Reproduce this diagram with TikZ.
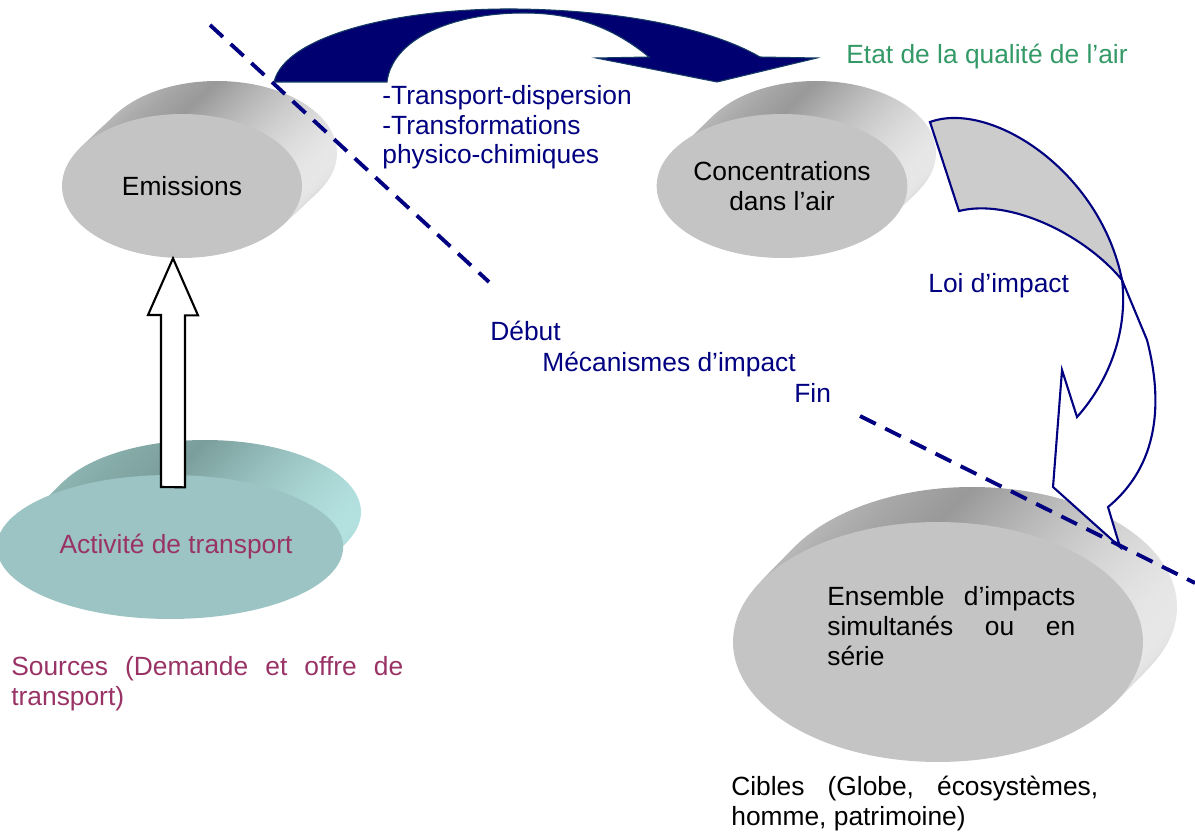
\documentclass[tikz,border=0pt]{standalone}
\usepackage{fontspec}
\setmainfont{Liberation Sans}
\usetikzlibrary{shapes.geometric,calc}
\definecolor{navytxt}{RGB}{0,0,128}
\definecolor{navyfill}{RGB}{0,0,112}
\definecolor{navyedge}{RGB}{20,60,100}
\definecolor{airgreen}{RGB}{51,153,102}
\definecolor{plum}{RGB}{153,51,102}
\definecolor{lawgray}{RGB}{204,204,204}
\definecolor{discface}{RGB}{196,196,196}
\definecolor{discdark}{RGB}{153,153,153}
\definecolor{discmid}{RGB}{192,192,192}
\definecolor{disclight}{RGB}{232,232,232}
\definecolor{tealface}{RGB}{156,196,196}
\definecolor{tealdark}{RGB}{122,158,156}
\definecolor{tealmid}{RGB}{145,185,182}
\definecolor{teallight}{RGB}{180,226,224}
% depth of a disc: copies of the rim from back to front
\newcommand{\slab}[6]{%
  \foreach \k in {16,...,1}
    \shade[left color=#6mid, right color=#6light, middle color=#6dark]
      ($(#1)+({\k*#4/16},{\k*#5/16})$) ellipse [x radius=#2, y radius=#3];
}

\begin{document}
\begin{tikzpicture}[x=0.02cm, y=-0.02cm]
  \tikzset{every node/.style={font=\fontsize{15}{17}\selectfont},
    face/.style={ellipse, inner sep=0pt, align=center},
    note/.style={inner sep=0pt, anchor=base west, align=left},
    cut/.style={draw=navytxt, line width=2.2pt, dash pattern=on 10pt off 6pt},
    blockup/.style={draw=black, fill=white, line width=1.2pt, line join=miter},
    ribbon/.style={draw=navyedge, fill=navyfill, line width=0.6pt},
    twist/.style={draw=navytxt, line width=1.2pt, line join=miter}}
  \useasboundingbox (0,0) rectangle (1195,834);

  % discs
  \coordinate (emi-c) at (182,186);
  \coordinate (conc-c) at (782,186);
  \coordinate (act-c) at (170,547);
  \coordinate (ens-c) at (938,642);
  \slab{emi-c}{120}{72}{35}{-33}{disc}
  \node[face, fill=discface, minimum width=4.8cm, minimum height=2.88cm] (emi) at (emi-c) {Emissions};
  \slab{conc-c}{120}{72}{34}{-33}{disc}
  \node[face, fill=discface, minimum width=4.8cm, minimum height=2.88cm] (conc) at (conc-c) {Concentrations\\dans l’air};
  \slab{act-c}{156}{72}{35}{-35}{teal}
  \node[face, fill=tealface, text=plum, minimum width=6.24cm, minimum height=2.88cm] (act) at (act-c) {\hspace*{0.24cm}Activité de transport};
  \slab{ens-c}{205}{120}{34}{-35}{disc}
  \node[face, fill=discface, minimum width=8.2cm, minimum height=4.8cm] (ens) at (ens-c) {};

  % sources -> emissions
  \coordinate (up-tail) at (173,487);
  \coordinate (up-tip) at (emi.south -| up-tail);
  \draw[blockup] (up-tail) ++(-12,0) -- ++(0,-172) -- ++(-13,0) -- (up-tip)
    -- ++(25,57) -- ++(-13,0) -- ++(0,172) -- cycle;

  % transport-dispersion
  \draw[ribbon] (274,82) .. controls (285,35) and (400,8) .. (515,9)
    .. controls (620,10) and (710,28) .. (760,57) -- (817,58) -- (717,82)
    -- (596,58) -- (649,57) .. controls (610,25) and (570,13) .. (524,13)
    .. controls (450,13) and (392,40) .. (387,82) -- cycle;

  % loi d'impact
  \coordinate (law-a) at (930,122);
  \coordinate (law-b) at (959,211);
  \coordinate (law-c) at (1122,280);
  \draw[twist, fill=white] (law-c) -- (1147,340) .. controls (1160,390) and (1165,460) .. (1108,507)
    -- (1120,547) -- (1053,487) -- (1062,370) -- (1077,417)
    .. controls (1110,380) and (1128,330) .. (law-c) -- cycle;
  \draw[twist, fill=lawgray] (law-a) .. controls (990,100) and (1100,170) .. (law-c)
    .. controls (1085,235) and (1010,198) .. (law-b) -- cycle;

  % debut / fin
  \coordinate (cut1-a) at (210,25);
  \coordinate (cut1-b) at (489,282);
  \coordinate (cut2-a) at (860,416);
  \coordinate (cut2-b) at (1195,583);
  \draw[cut] (cut1-a) -- (cut1-b);
  \draw[cut] (cut2-a) -- (cut2-b);

  % labels (base = last line)
  \node[note, text=navytxt] (trans) at (382,164) {-Transport-dispersion\\-Transformations\\physico-chimiques};
  \node[note, text=airgreen] (etat) at (846,64) {Etat de la qualité de l’air};
  \node[note, text=navytxt] (loi) at (928,293) {Loi d’impact};
  \node[note, text=navytxt] (debut) at (490,340) {Début};
  \node[note, text=navytxt] (meca) at (542,371) {Mécanismes d’impact};
  \node[note, text=navytxt] (fin) at (794,402) {Fin};
  \node[note, text=plum] (sources) at (11,705)
    {\hbox to 7.84cm{Sources\hfill (Demande\hfill et\hfill offre\hfill de}\\transport)};
  \node[note] (ens-txt) at (827,665)
    {\hbox to 4.96cm{Ensemble\hfill d’impacts}\\\hbox to 4.96cm{simultanés\hfill ou\hfill en}\\série};
  \node[note] (cibles) at (731,825)
    {\hbox to 7.34cm{Cibles\hfill (Globe,\hfill écosystèmes,}\\homme, patrimoine)};
\end{tikzpicture}
\end{document}
